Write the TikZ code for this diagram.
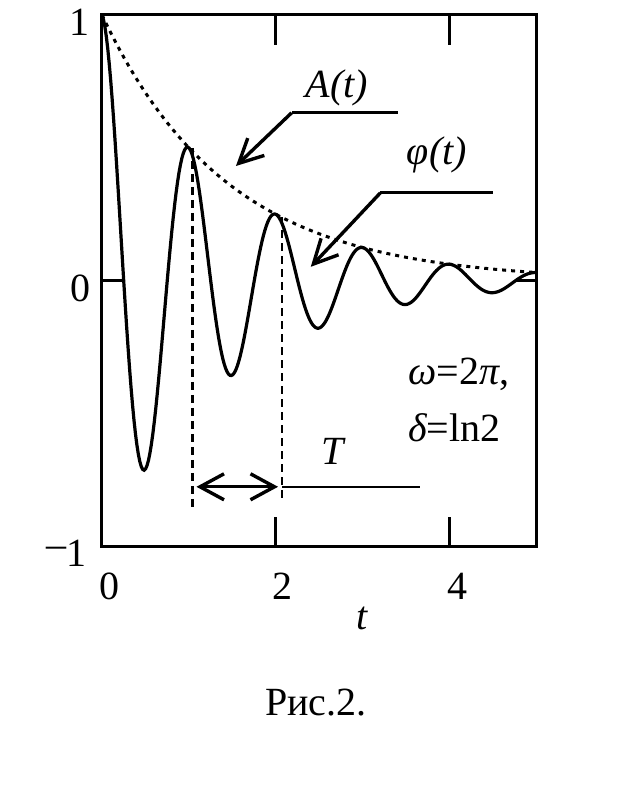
\documentclass[tikz,border=0pt]{standalone}
\usepackage{fontspec}
\setmainfont{Liberation Serif}
\usetikzlibrary{arrows.meta}

\begin{document}
\begin{tikzpicture}[x=43.5pt,y=133pt,
		lbl/.style={inner sep=0pt,anchor=base,font=\fontsize{20}{24}\selectfont},
		frame/.style={line width=1.5pt},
		barb/.style={line width=1.7pt,-{Straight Barb[length=12pt,width=12pt,line width=1.7pt]}},
		guide/.style={line width=1.4pt,dash pattern=on 4pt off 2.5pt}]
		\useasboundingbox (-1.172,1.056) rectangle (5.920,-1.989);
	
		\draw[frame] (0,-1) -- (5,-1) -- (5,1) -- (0,1) -- cycle;
		
		\draw[frame] (2,-1) -- (2,-0.887);
		\draw[frame] (4,-1) -- (4,-0.887);
		\draw[frame] (2,1) -- (2,0.887);
		\draw[frame] (4,1) -- (4,0.887);
		\draw[frame] (0,0) -- (0.264,0);
		\draw[frame] (5,0) -- (4.76,0);
		
		\node[lbl] (ytop) at (-0.253,0.921) {1};
		\node[lbl] (ymid) at (-0.247,-0.079) {0};
		\node[lbl,anchor=base east] (ybot) at (-0.172,-1.075) {\raisebox{4.5pt}{\textendash}1};
		\node[lbl] (xzero) at (0.092,-1.199) {0};
		\node[lbl] (xtwo) at (2.08,-1.199) {2};
		\node[lbl] (xfour) at (4.09,-1.199) {4};
		\node[lbl] (xname) at (2.99,-1.312) {\itshape t};
		
		% envelope and signal
		\draw[line width=1.5pt,dash pattern=on 2pt off 2.5pt] plot[domain=0:5,samples=100] (\x,{exp(-0.693*\x)});
		\draw[line width=1.6pt] plot[domain=0:5,samples=300] (\x,{exp(-0.693*\x)*cos(360*\x)});
		
		\coordinate (peakA) at (1.04,0.5);
		\coordinate (footA) at (1.04,-0.85);
		\coordinate (peakB) at (2.07,0.24);
		\coordinate (footB) at (2.07,-0.83);
		\draw[guide] (peakA) -- (footA);
		\draw[guide] (peakB) -- (footB);
		
		\coordinate (perL) at (1.04,-0.774);
		\coordinate (perR) at (2.07,-0.774);
		\coordinate (perEnd) at (3.66,-0.774);
		\draw[line width=1.7pt,{Straight Barb[length=12pt,width=13pt,line width=1.7pt]}-{Straight Barb[length=12pt,width=13pt,line width=1.7pt]},shorten <=2pt,shorten >=2pt] (perL) -- (perR);
		\draw[line width=1pt] (perR) -- (perEnd);
		\node[lbl] (perT) at (2.655,-0.692) {\itshape T};
		
		\node[lbl] (ampA) at (2.70,0.688) {\itshape A(t)};
		\coordinate (ampKnee) at (2.18,0.632);
		\coordinate (ampEnd) at (3.40,0.632);
		\coordinate (ampTip) at (1.54,0.432);
		\draw[frame] (ampEnd) -- (ampKnee);
		\draw[barb] (ampKnee) -- (ampTip);
		
		\node[lbl] (phaseF) at (3.85,0.436) {\itshape φ(t)};
		\coordinate (phKnee) at (3.20,0.331);
		\coordinate (phEnd) at (4.49,0.331);
		\coordinate (phTip) at (2.40,0.053);
		\draw[frame] (phEnd) -- (phKnee);
		\draw[barb] (phKnee) -- (phTip);
		
		\node[lbl,anchor=base west] (omega) at (3.517,-0.391) {\itshape ω\upshape=2\itshape π\upshape,};
		\node[lbl,anchor=base west] (delta) at (3.517,-0.605) {\itshape δ\upshape=ln2};
		
		\node[lbl] (caption) at (2.46,-1.632) {Рис.2.};
	\end{tikzpicture}
\end{document}
